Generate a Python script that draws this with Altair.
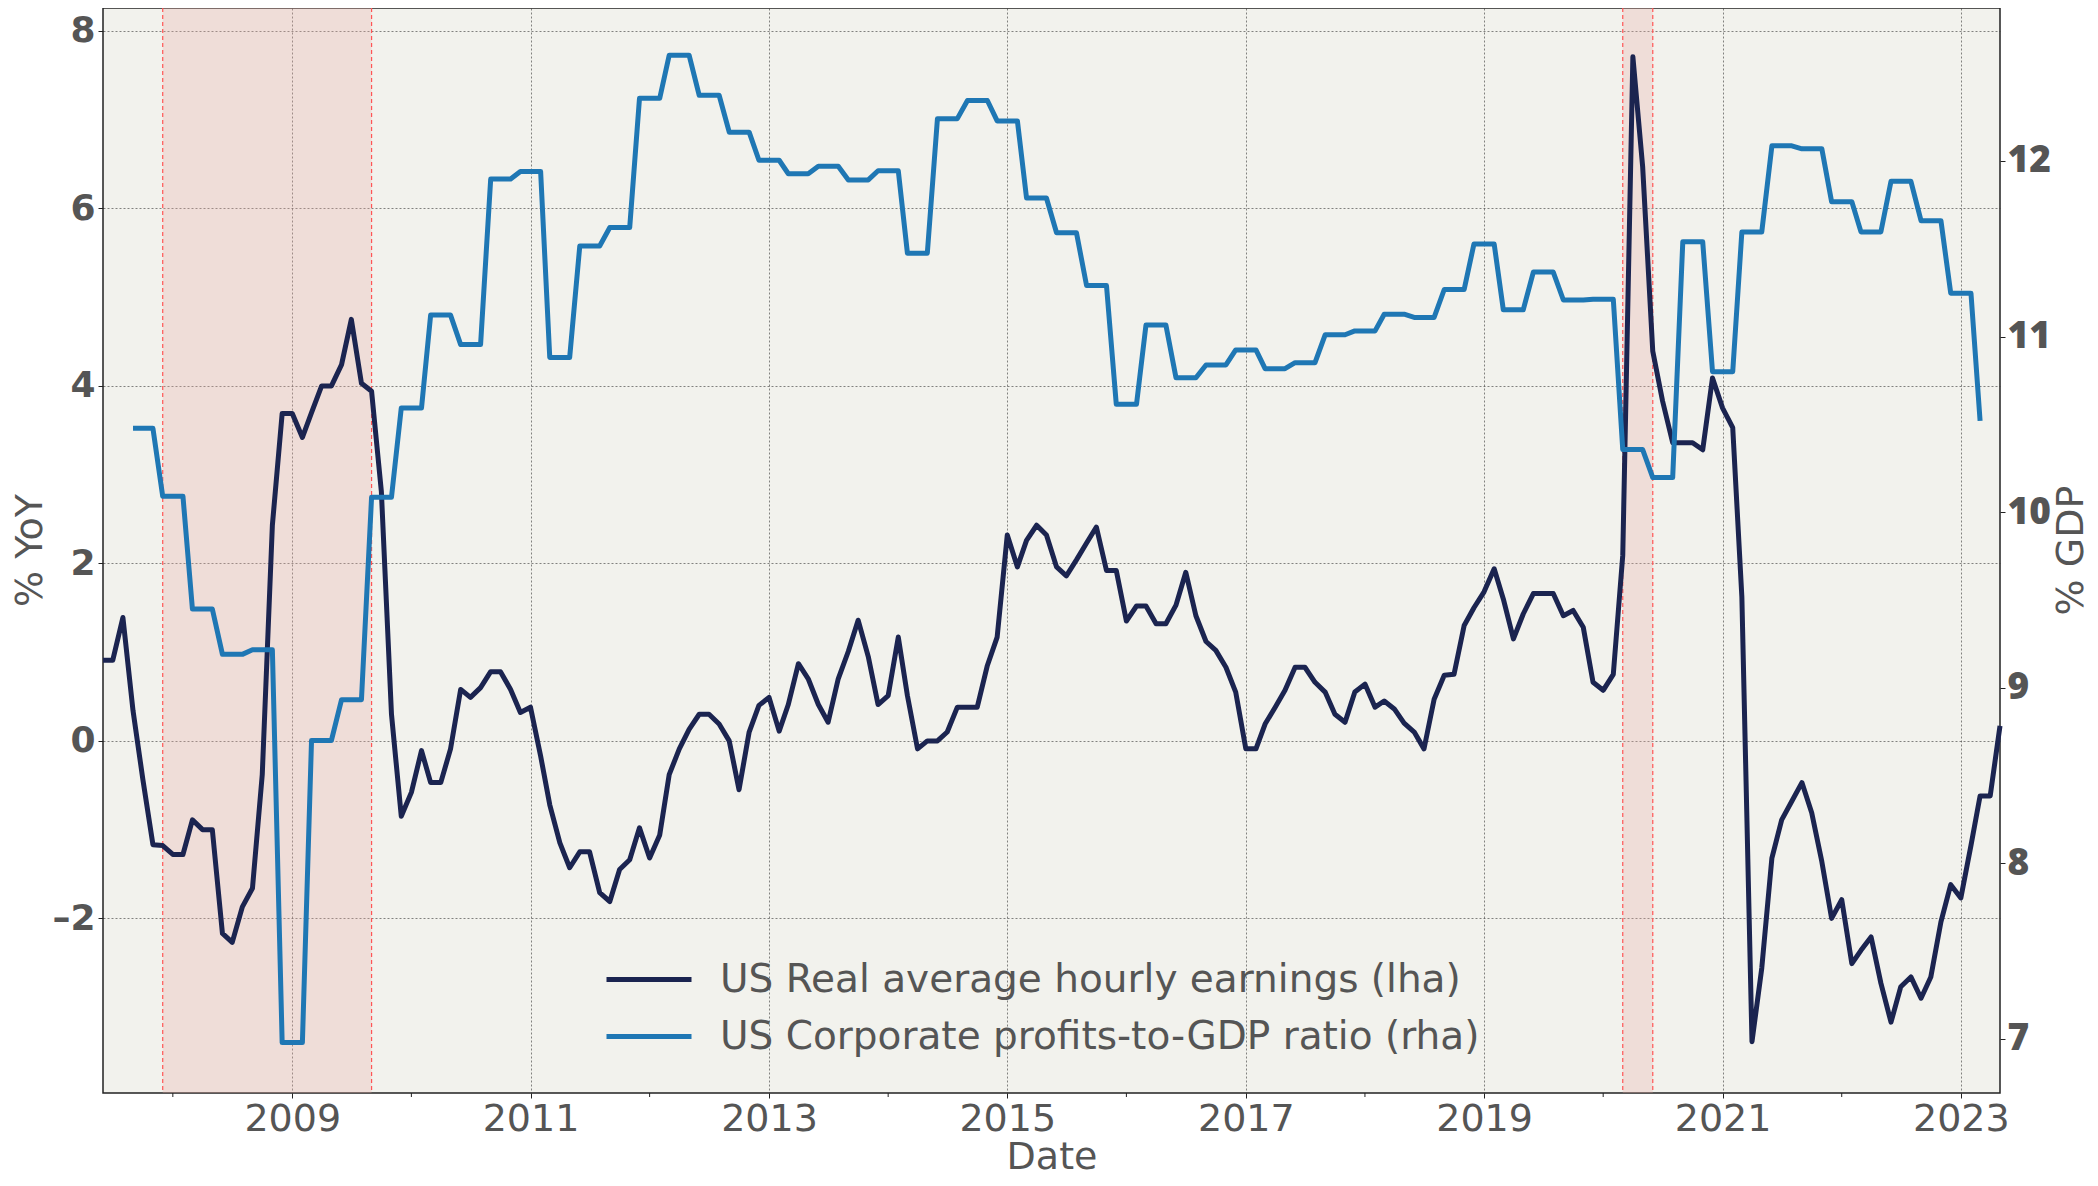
import altair as alt
import pandas as pd

# ---------------- data ----------------
earn_start = "2007-06-01"
earnings = [
    0.91, 0.91, 1.39, 0.34, -0.43, -1.17, -1.18, -1.28, -1.28, -0.89, -1.00, -1.00,
    -2.17, -2.27, -1.87, -1.66, -0.38, 2.43, 3.69, 3.69, 3.42, 3.70, 4.00, 4.00,
    4.24, 4.75, 4.03, 3.94, 2.81, 0.30, -0.85, -0.58, -0.11, -0.47, -0.47, -0.09,
    0.58, 0.49, 0.60, 0.78, 0.78, 0.58, 0.32, 0.38, -0.17, -0.72, -1.15, -1.43,
    -1.25, -1.25, -1.71, -1.81, -1.45, -1.34, -0.98, -1.32, -1.06, -0.38, -0.09, 0.13,
    0.30, 0.30, 0.19, 0.00, -0.55, 0.10, 0.40, 0.49, 0.11, 0.41, 0.87, 0.70,
    0.41, 0.21, 0.70, 1.01, 1.36, 0.95, 0.41, 0.51, 1.17, 0.51, -0.09, 0.00,
    0.00, 0.10, 0.38, 0.38, 0.38, 0.85, 1.17, 2.32, 1.96, 2.26, 2.43, 2.32,
    1.96, 1.86, 2.04, 2.23, 2.41, 1.92, 1.92, 1.35, 1.52, 1.52, 1.32, 1.32,
    1.53, 1.90, 1.41, 1.12, 1.02, 0.83, 0.55, -0.09, -0.09, 0.19, 0.38, 0.57,
    0.83, 0.83, 0.66, 0.55, 0.30, 0.21, 0.55, 0.64, 0.38, 0.45, 0.36, 0.20,
    0.10, -0.09, 0.47, 0.74, 0.75, 1.30, 1.50, 1.68, 1.94, 1.60, 1.15, 1.43,
    1.66, 1.66, 1.66, 1.41, 1.47, 1.28, 0.66, 0.57, 0.75, 2.09, 7.71, 6.47,
    4.39, 3.83, 3.36, 3.36, 3.36, 3.28, 4.09, 3.75, 3.53, 1.62, -3.39, -2.56,
    -1.32, -0.89, -0.68, -0.47, -0.81, -1.36, -2.00, -1.79, -2.51, -2.36, -2.21, -2.73,
    -3.17, -2.77, -2.66, -2.90, -2.66, -2.04, -1.62, -1.77, -1.18, -0.62, -0.62, 0.17,
]

profit_start = "2007-09-01"
profit_end = "2023-03-01"
profits_q = [
    10.477, 10.090, 9.448, 9.190, 9.216, 6.979, 8.700, 8.932, 10.085, 10.593,
    11.122, 10.954, 11.897, 11.940, 10.881, 11.516, 11.621, 12.357, 12.602, 12.374,
    12.164, 12.004, 11.927, 11.970, 11.892, 11.944, 11.475, 12.241, 12.344, 12.228,
    11.789, 11.591, 11.290, 10.614, 11.066, 10.765, 10.838, 10.924, 10.817, 10.851,
    11.010, 11.032, 11.127, 11.109, 11.268, 11.527, 11.152, 11.367, 11.208, 11.213,
    10.356, 10.197, 11.540, 10.800, 11.596, 12.086, 12.069, 11.768, 11.596, 11.884,
    11.660, 11.247, 10.520,
]

rec_starts = ["2007-12-01", "2020-03-01"]
rec_ends = ["2009-09-01", "2020-06-01"]

major_years = [2009, 2011, 2013, 2015, 2017, 2019, 2021, 2023]
minor_years = [2008, 2010, 2012, 2014, 2016, 2018, 2020, 2022]
left_ticks = [-2, 0, 2, 4, 6, 8]
right_ticks = [7, 8, 9, 10, 11, 12]

lha_label = "US Real average hourly earnings (lha)"
rha_label = "US Corporate profits-to-GDP ratio (rha)"

# ---------------- frames ----------------
e_dates = pd.date_range(earn_start, periods=len(earnings), freq="MS")
earn_df = pd.DataFrame({"date": e_dates.strftime("%Y-%m-%d"), "value": earnings, "series": lha_label})

q_dates = pd.date_range(profit_start, periods=len(profits_q), freq="3MS")
m_dates = pd.date_range(profit_start, profit_end, freq="MS")
prof = pd.Series(profits_q, index=q_dates).reindex(m_dates, method="ffill")
prof_df = pd.DataFrame({"date": m_dates.strftime("%Y-%m-%d"), "value": prof.values, "series": rha_label})

rec_df = pd.DataFrame({"start": rec_starts, "end": rec_ends})
edge_df = pd.DataFrame({"date": rec_starts + rec_ends})
minor_df = pd.DataFrame({"date": [f"{y}-01-01" for y in minor_years]})

W, H = 1897, 1085
FONT = "DejaVu Sans"
TICK_FONT = "Open Sans"
GRAY = "#555555"
DARK = "#1b2450"
BLUE = "#1f77b4"
MINUS_EXPR = "datum.value < 0 ? '\u2013' + format(abs(datum.value), 'd') : datum.label"

x_scale = alt.Scale(
    type="utc",
    domain=[alt.DateTime(year=2007, month=6, date=1, utc=True),
            alt.DateTime(year=2023, month=5, date=1, utc=True)],
    nice=False,
)
x_axis = alt.Axis(
    values=[alt.DateTime(year=y, month=1, date=1, utc=True) for y in major_years],
    format="%Y", grid=True, gridDash=[2, 2], gridColor="#333333", gridWidth=0.7, gridOpacity=0.85,
    domain=False, tickSize=5, tickColor="#222222", labelFont=FONT, labelFontSize=38,
    labelColor=GRAY, labelPadding=2, title="Date", titleFont=FONT, titleFontSize=38,
    titleFontWeight="normal", titleColor=GRAY, titlePadding=0,
)
X = alt.X("date:T", scale=x_scale, axis=x_axis)

color = alt.Color(
    "series:N",
    scale=alt.Scale(domain=[lha_label, rha_label], range=[DARK, BLUE]),
    legend=alt.Legend(
        orient="none", legendX=501, legendY=943, direction="vertical", title=None,
        symbolType="stroke", symbolSize=7225, symbolStrokeWidth=5, labelFont=FONT,
        labelFontSize=39, labelColor=GRAY, labelOffset=26, rowPadding=0, clipHeight=57,
        labelLimit=1200, padding=0,
    ),
)

shade = alt.Chart(rec_df).mark_rect(fill="#eaaaa1", opacity=0.28).encode(
    x=alt.X("start:T", scale=x_scale, axis=x_axis), x2="end:T",
    y=alt.value(0), y2=alt.value(H),
)
edges = alt.Chart(edge_df).mark_rule(color="#ff5555", strokeDash=[4, 3], strokeWidth=1.2).encode(x=X)
minor = alt.Chart(minor_df).mark_rule(color="#222222", strokeWidth=1).encode(
    x=X, y=alt.value(H), y2=alt.value(H + 4)
)

left_axis = alt.Axis(
    values=left_ticks, grid=True, gridDash=[2, 2], gridColor="#333333", gridWidth=0.7, gridOpacity=0.85,
    domain=False, tickSize=5, tickColor="#222222", labelFont=FONT, labelFontSize=36,
    labelFontWeight="bold", labelColor=GRAY, labelPadding=3, labelExpr=MINUS_EXPR,
    title="% YoY", titleFont=FONT, titleFontSize=38, titleFontWeight="normal", titleColor=GRAY,
    titleAngle=270, titleBaseline="alphabetic", titleX=-62, titleY=542,
)
right_axis = alt.Axis(
    values=right_ticks, grid=False, orient="right",
    domain=False, tickSize=5, tickColor="#222222", labelFont=TICK_FONT, labelFontSize=37,
    labelFontWeight=800, labelColor=GRAY, labelPadding=2,
    title="% GDP", titleFont=FONT, titleFontSize=38, titleFontWeight="normal", titleColor=GRAY,
    titleAngle=270, titleBaseline="alphabetic", titleX=82, titleY=542,
)

earn_line = alt.Chart(earn_df).mark_line(strokeWidth=5, strokeJoin="round").encode(
    x=X,
    y=alt.Y("value:Q", scale=alt.Scale(domain=[-3.968, 8.259], nice=False, zero=False), axis=left_axis),
    color=color,
)
prof_line = alt.Chart(prof_df).mark_line(strokeWidth=5, strokeJoin="round").encode(
    x=X,
    y=alt.Y("value:Q", scale=alt.Scale(domain=[6.692, 12.871], nice=False, zero=False), axis=right_axis),
    color=color,
)

chart = (
    alt.layer(shade, edges, minor, earn_line, prof_line)
    .resolve_scale(y="independent")
    .properties(
        width=W, height=H,
        autosize=alt.AutoSizeParams(type="none"),
        padding={"left": 95, "top": 0, "right": 90, "bottom": 85},
        background="white",
    )
    .configure_view(fill="#f2f2ed", stroke="#222222", strokeWidth=1.5)
)

chart.save("out.html", embed_options={"renderer": "svg", "actions": False})
